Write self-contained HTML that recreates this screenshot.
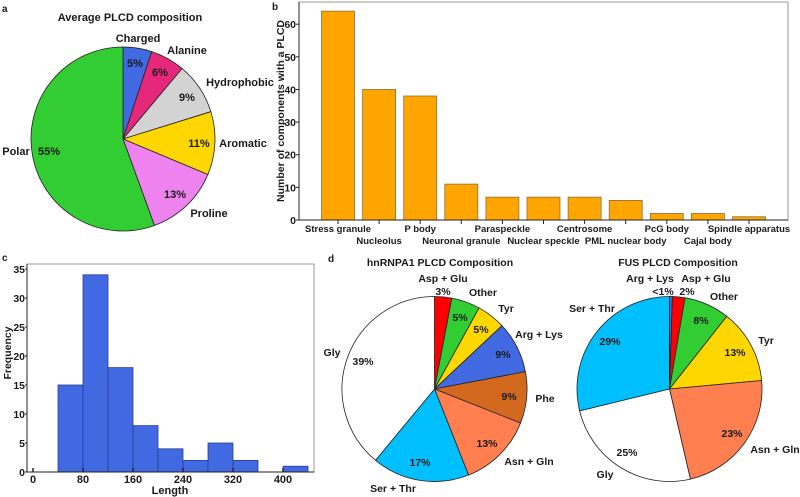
<!DOCTYPE html>
<html><head><meta charset="utf-8"><style>
html,body{margin:0;padding:0;background:#fff;}
svg{display:block;font-family:"Liberation Sans",Arial,sans-serif;font-weight:bold;}
text{fill:#1a1a1a;}
</style></head><body>
<svg id="fig" width="800" height="497" viewBox="0 0 800 497"></svg>
<script>
// ---- Panel a data ----
const aLabels = ["Charged","Alanine","Hydrophobic","Aromatic","Proline","Polar"];
const aValues = [5,6,9,11,13,55];
const aColors = ["#4169e1","#e6287a","#d3d3d3","#ffd700","#ee82ee","#32cd32"];
// ---- Panel b data ----
const bCats = ["Stress granule","Nucleolus","P body","Neuronal granule","Paraspeckle","Nuclear speckle","Centrosome","PML nuclear body","PcG body","Cajal body","Spindle apparatus"];
const bValues = [64,40,38,11,7,7,7,6,2,2,1];
const bTicks = [0,10,20,30,40,50,60];
// ---- Panel c data ----
const cBinStarts = [40,80,120,160,200,240,280,320,360,400];
const cCounts = [15,34,18,8,4,2,5,2,0,1];
const cBinWidth = 40;
const cXTicks = [0,80,160,240,320,400];
const cYTicks = [0,5,10,15,20,25,30,35];
// ---- Panel d data ----
const hLabels = ["Asp + Glu","Other","Tyr","Arg + Lys","Phe","Asn + Gln","Ser + Thr","Gly"];
const hValues = [3,5,5,9,9,13,17,39];
const hPct = ["3%","5%","5%","9%","9%","13%","17%","39%"];
const hColors = ["#ff0000","#32cd32","#ffd700","#4169e1","#d2691e","#ff7f50","#00bfff","#ffffff"];
const fLabels = ["Arg + Lys","Asp + Glu","Other","Tyr","Asn + Gln","Gly","Ser + Thr"];
const fValues = [0.5,2.2,8,13,23,25,29];
const fPct = ["<1%","2%","8%","13%","23%","25%","29%"];
const fColors = ["#4169e1","#ff0000","#32cd32","#ffd700","#ff7f50","#ffffff","#00bfff"];

const NS="http://www.w3.org/2000/svg";
const svg=document.getElementById('fig');
function el(tag,attrs,parent){const e=document.createElementNS(NS,tag);for(const k in attrs)e.setAttribute(k,attrs[k]);(parent||svg).appendChild(e);return e;}
function txt(x,y,s,size,anchor,name,parent){const t=el('text',{x:x,y:y,'font-size':size,'text-anchor':anchor||'middle'},parent);t.textContent=s;


return t;}

function pie(cx,cy,r,values,colors,names,group){
  const tot=values.reduce((a,b)=>a+b,0);let acc=0;
  values.forEach((v,i)=>{
    const a0=acc/tot*2*Math.PI;acc+=v;const a1=acc/tot*2*Math.PI;
    const x0=cx+r*Math.sin(a0),y0=cy-r*Math.cos(a0),x1=cx+r*Math.sin(a1),y1=cy-r*Math.cos(a1);
    const large=(a1-a0)>Math.PI?1:0;
    const p=el('path',{d:`M${cx},${cy}L${x0},${y0}A${r},${r} 0 ${large} 1 ${x1},${y1}Z`,fill:colors[i],stroke:'#222','stroke-width':0.8},group);
    
    
  });
}

// ===== Panel a =====
const ga=el('g',{});


txt(2,12,"a",10,'start','panel-a-letter',ga);
txt(130,21,"Average PLCD composition",11,'middle','panel-a-title',ga);
pie(123,139,92,aValues,aColors,aLabels,ga);
const aLabelPos=[[138,42],[187,54],[240,86],[243,147],[209,217],[16,155]];
const aPctPos=[[135,67],[160,76],[187,101],[199,147],[175,198],[49,155]];
aLabels.forEach((l,i)=>{txt(aLabelPos[i][0],aLabelPos[i][1],l,11,'middle','label-'+l.toLowerCase(),ga);
 txt(aPctPos[i][0],aPctPos[i][1],aValues[i]+"%",11,'middle','pct-'+l.toLowerCase(),ga);});

// ===== Panel b =====
const gb=el('g',{});


txt(272,10,"b",10,'start','panel-b-letter',gb);
const bL=299,bR=788,bT=2,bB=220,bMax=66.8;
const by=v=>bB-v/bMax*(bB-bT);
const bStep=41.1,bX0=338,bW=33;
const bx=i=>bX0+i*bStep;
const fr=el('rect',{x:bL,y:bT,width:bR-bL,height:bB-bT,fill:'none',stroke:'#999','stroke-width':1},gb);


bValues.forEach((v,i)=>{
  const r=el('rect',{x:bx(i)-bW/2,y:by(v),width:bW,height:bB-by(v),fill:'#ffa500',stroke:'#8a7040','stroke-width':0.8},gb);
  
  
  el('line',{x1:bx(i),x2:bx(i),y1:bB,y2:bB+4,stroke:'#222','stroke-width':1},gb);
  txt(bx(i),i%2===0?232:244,bCats[i],9.5,'middle','xtick-'+i,gb);
});
el('line',{x1:bL,x2:bR,y1:bB,y2:bB,stroke:'#222','stroke-width':1},gb);
el('line',{x1:bL,x2:bL,y1:bT,y2:bB,stroke:'#222','stroke-width':1},gb);
bTicks.forEach(t=>{el('line',{x1:bL-3,x2:bL,y1:by(t),y2:by(t),stroke:'#222'},gb);
 txt(bL-3,by(t)+4,String(t),10.5,'end','ytick-'+t,gb);});
const byt=txt(0,0,"Number of components with a PLCD",10.5,'middle','y-axis-title',gb);
byt.setAttribute('transform','translate(284,111) rotate(-90)');

// ===== Panel c =====
const gc=el('g',{});


txt(2,261,"c",10,'start','panel-c-letter',gc);
const cL=27,cR=314,cT=264,cB=472;
const cx=v=>33+v*0.625;
const cy=v=>cB-v/35*(cB-269);
el('rect',{x:cL,y:cT,width:cR-cL,height:cB-cT,fill:'none',stroke:'#999'},gc);
cCounts.forEach((n,i)=>{ if(n<=0) return;
  const r=el('rect',{x:cx(cBinStarts[i]),y:cy(n),width:cx(cBinStarts[i]+cBinWidth)-cx(cBinStarts[i]),height:cB-cy(n),fill:'#4169e1',stroke:'#2a3f8f','stroke-width':0.8},gc);
  
  
});
el('line',{x1:cL,x2:cR,y1:cB,y2:cB,stroke:'#222'},gc);
el('line',{x1:cL,x2:cL,y1:cT,y2:cB,stroke:'#222'},gc);
cXTicks.forEach(t=>{el('line',{x1:cx(t),x2:cx(t),y1:cB,y2:cB-4,stroke:'#222','stroke-width':1.5},gc);
 txt(cx(t),483,String(t),11,'middle','xtick-'+t,gc);});
cYTicks.forEach(t=>{el('line',{x1:cL-2,x2:cL,y1:cy(t),y2:cy(t),stroke:'#222'},gc);
 txt(cL-2,cy(t)+4,String(t),10.5,'end','ytick-'+t,gc);});
txt(170,494,"Length",11,'middle','x-axis-title',gc);
const cyt=txt(0,0,"Frequency",10.5,'middle','y-axis-title',gc);
cyt.setAttribute('transform','translate(11,353) rotate(-90)');

// ===== Panel d =====
const gd=el('g',{});


txt(328,262,"d",10,'start','panel-d-letter',gd);
txt(440,266,"hnRNPA1 PLCD Composition",10.5,'middle','hnrnpa1-title',gd);
txt(678,266,"FUS PLCD Composition",10.5,'middle','fus-title',gd);
pie(434.5,389,92.5,hValues,hColors,hLabels.map(s=>'hnrnpa1-'+s),gd);
pie(669.5,389,92.5,fValues,fColors,fLabels.map(s=>'fus-'+s),gd);
const hLabelPos=[[443,282],[483,296],[506,312],[539,338],[545,402],[529,465],[393,492],[332,356]];
const hPctPos=[[443,295],[460,321],[481,333],[503,358],[509,400],[487,447],[420,466],[363,365]];
hLabels.forEach((l,i)=>{txt(hLabelPos[i][0],hLabelPos[i][1],l,10.5,'middle','hnrnpa1-label-'+i,gd);
 txt(hPctPos[i][0],hPctPos[i][1],hPct[i],10.5,'middle','hnrnpa1-pct-'+i,gd);});
const fLabelPos=[[650,282],[706,282],[724,300],[766,344],[775,453],[605,478],[592,312]];
const fPctPos=[[663,295],[687,295],[701,324],[735,356],[732,437],[627,456],[610,345]];
fLabels.forEach((l,i)=>{txt(fLabelPos[i][0],fLabelPos[i][1],l,10.5,'middle','fus-label-'+i,gd);
 txt(fPctPos[i][0],fPctPos[i][1],fPct[i],10.5,'middle','fus-pct-'+i,gd);});
</script>
</body></html>
